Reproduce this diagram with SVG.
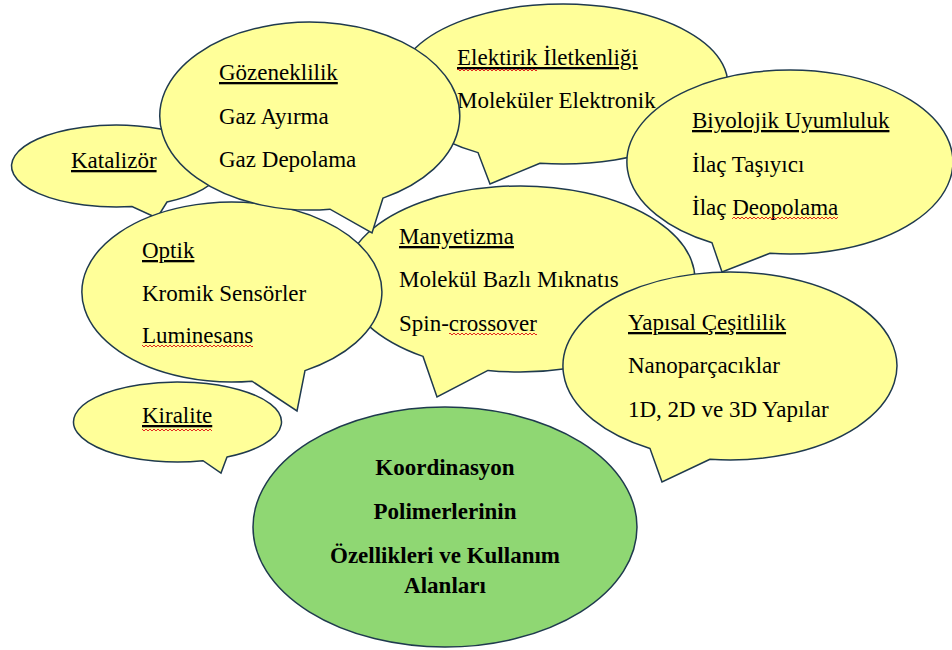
<svg xmlns="http://www.w3.org/2000/svg" width="952" height="650" viewBox="0 0 952 650">
<style>
.b{fill:#FFFF99;stroke:#1F3A4E;stroke-width:1.5}
.g{fill:#8FD773;stroke:#1F3A4E;stroke-width:1.5}
text{font-family:"Liberation Serif","Times New Roman",serif;font-size:23px;fill:#000}
.u{text-decoration:underline}
.c{font-weight:bold;text-anchor:middle}
.sq{fill:url(#sq)}
</style>
<defs>
<pattern id="sq" width="4" height="4" patternUnits="userSpaceOnUse">
<path d="M0,3 L2,1 L4,3" fill="none" stroke="#E01010" stroke-width="0.9"/>
</pattern>
</defs>
<rect width="952" height="650" fill="#fff"/>
<g id="connectors"/>
<g id="katalizor">
<path class="b" d="M167,202 L157,218 L132,206.6 A105,41 0 1 1 167,202 Z"/>
<text class="u" x="71" y="168">Katalizör</text>
</g>
<g id="elektirik">
<path class="b" d="M540,163.2 L490,184 L478,152.6 A165,80 0 1 1 540,163.2 Z"/>
<text class="u" x="457" y="65">Elektirik İletkenliği</text>
<rect class="sq" x="457" y="68" width="80" height="4"/>
<text x="457" y="108">Moleküler Elektronik</text>
</g>
<g id="biyolojik">
<path class="b" d="M770,253.3 L722,272 L712,242.8 A163,92 0 1 1 770,253.3 Z"/>
<text class="u" x="692" y="128">Biyolojik Uyumluluk</text>
<text x="692" y="172">İlaç Taşıyıcı</text>
<text x="692" y="215">İlaç Deopolama</text>
<rect class="sq" x="732" y="216" width="106" height="4"/>
</g>
<g id="manyetizma">
<path class="b" d="M488,370.4 L437,397 L423,356.4 A175,93 0 1 1 488,370.4 Z"/>
<text class="u" x="399" y="244">Manyetizma</text>
<text x="399" y="287">Molekül Bazlı Mıknatıs</text>
<text x="399" y="331">Spin-crossover</text>
<rect class="sq" x="449" y="332" width="88" height="4"/>
</g>
<g id="optik">
<path class="b" d="M305,370.6 L297,411 L252,381.2 A150,90 0 1 1 305,370.6 Z"/>
<text class="u" x="142" y="258">Optik</text>
<text x="142" y="301">Kromik Sensörler</text>
<text x="142" y="343">Luminesans</text>
<rect class="sq" x="142" y="344" width="111" height="4"/>
</g>
<g id="gozeneklilik">
<path class="b" d="M383,198.1 L372,233 L330,209.2 A150,94 0 1 1 383,198.1 Z"/>
<text class="u" x="219" y="80">Gözeneklilik</text>
<text x="219" y="124">Gaz Ayırma</text>
<text x="219" y="167">Gaz Depolama</text>
</g>
<g id="kiralite">
<path class="b" d="M227,457.1 L221,473 L203,460.7 A104,40 0 1 1 227,457.1 Z"/>
<text class="u" x="142" y="423">Kiralite</text>
<rect class="sq" x="142" y="428" width="70" height="4"/>
</g>
<g id="yapisal">
<path class="b" d="M710,459.3 L662,482 L650,448.5 A167,94 0 1 1 710,459.3 Z"/>
<text class="u" x="628" y="330">Yapısal Çeşitlilik</text>
<text x="628" y="373">Nanoparçacıklar</text>
<text x="628" y="417">1D, 2D ve 3D Yapılar</text>
</g>
<g id="merkez">
<ellipse class="g" cx="445" cy="527" rx="192" ry="120"/>
<text class="c" x="445" y="475">Koordinasyon</text>
<text class="c" x="445" y="519">Polimerlerinin</text>
<text class="c" x="445" y="563">Özellikleri ve Kullanım</text>
<text class="c" x="445" y="593">Alanları</text>
</g>
</svg>
